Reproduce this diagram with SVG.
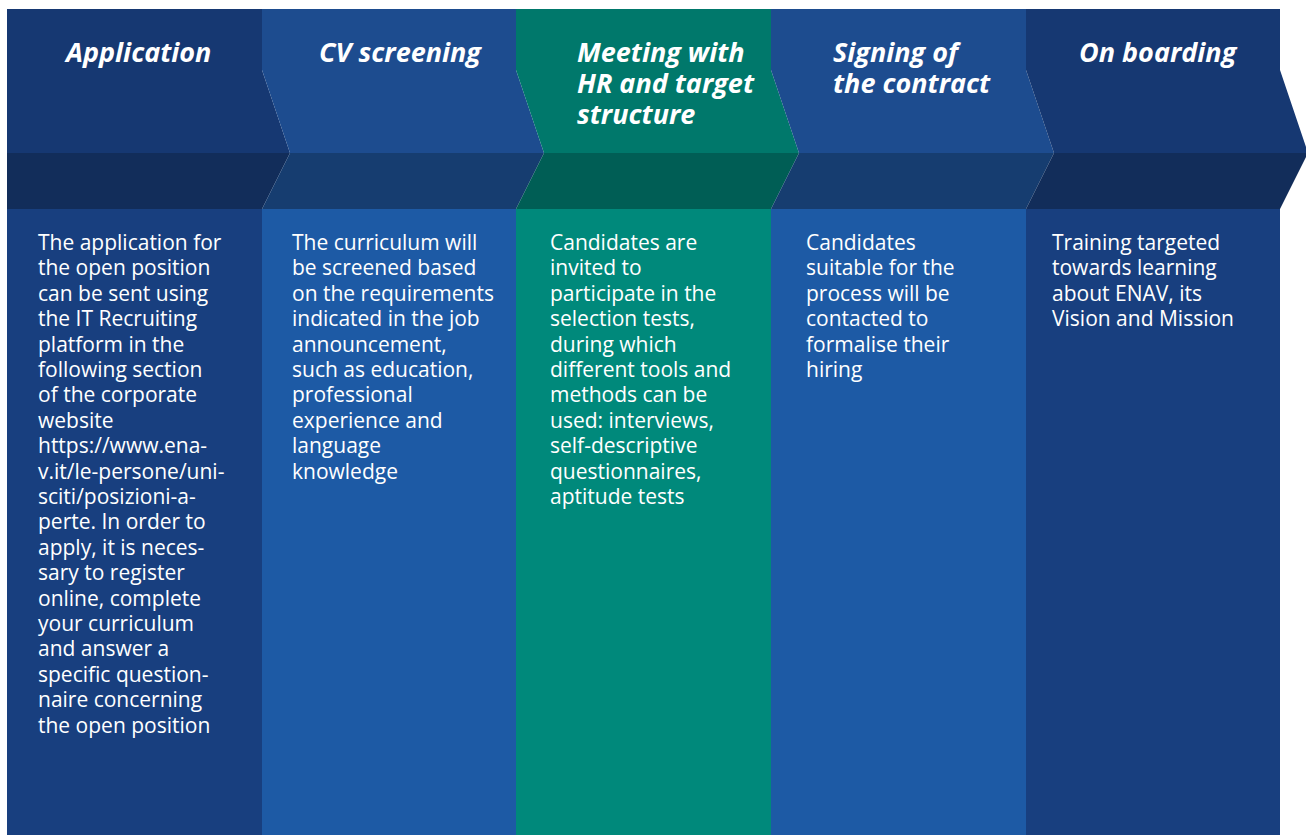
<svg xmlns="http://www.w3.org/2000/svg" width="1306" height="835" viewBox="0 0 1306 835">
<style>
.h{font-family:"Open Sans","Liberation Sans",sans-serif;font-weight:700;font-style:italic;font-size:27px;fill:#fff}
.b{font-family:"Open Sans","Liberation Sans",sans-serif;font-size:21px;fill:#fff}
.d1{fill:#163872}.d2{fill:#122d5a}.d3{fill:#183f7f}
.m1{fill:#1d4c8f}.m2{fill:#163d70}.m3{fill:#1d5aa5}
.g1{fill:#00786b}.g2{fill:#005e55}.g3{fill:#00897b}
</style>
<rect width="1306" height="835" fill="#fff"/>
<g id="step1">
<rect class="d3" x="7" y="209" width="255" height="626"/>
<polygon class="d1" points="7,9 262,9 262,70 290,153 7,153"/>
<polygon class="d2" points="7,153 290,153 262,209 7,209"/>
<text class="h" x="66" y="62">Application</text>
<text class="b" y="250"><tspan x="38">The application for</tspan><tspan x="38" dy="25.4">the open position</tspan><tspan x="38" dy="25.4">can be sent using</tspan><tspan x="38" dy="25.4">the IT Recruiting</tspan><tspan x="38" dy="25.4">platform in the</tspan><tspan x="38" dy="25.4">following section</tspan><tspan x="38" dy="25.4">of the corporate</tspan><tspan x="38" dy="25.4">website</tspan><tspan x="38" dy="25.4">https://www.ena-</tspan><tspan x="38" dy="25.4">v.it/le-persone/uni-</tspan><tspan x="38" dy="25.4">sciti/posizioni-a-</tspan><tspan x="38" dy="25.4">perte. In order to</tspan><tspan x="38" dy="25.4">apply, it is neces-</tspan><tspan x="38" dy="25.4">sary to register</tspan><tspan x="38" dy="25.4">online, complete</tspan><tspan x="38" dy="25.4">your curriculum</tspan><tspan x="38" dy="25.4">and answer a</tspan><tspan x="38" dy="25.4">specific question-</tspan><tspan x="38" dy="25.4">naire concerning</tspan><tspan x="38" dy="25.4">the open position</tspan></text>
</g>
<g id="step2">
<rect class="m3" x="262" y="209" width="254" height="626"/>
<polygon class="m1" points="262,9 516,9 516,70 544,153 290,153 262,70"/>
<polygon class="m2" points="290,153 544,153 516,209 262,209"/>
<text class="h" x="319" y="62">CV screening</text>
<text class="b" y="250"><tspan x="292">The curriculum will</tspan><tspan x="292" dy="25.4">be screened based</tspan><tspan x="292" dy="25.4">on the requirements</tspan><tspan x="292" dy="25.4">indicated in the job</tspan><tspan x="292" dy="25.4">announcement,</tspan><tspan x="292" dy="25.4">such as education,</tspan><tspan x="292" dy="25.4">professional</tspan><tspan x="292" dy="25.4">experience and</tspan><tspan x="292" dy="25.4">language</tspan><tspan x="292" dy="25.4">knowledge</tspan></text>
</g>
<g id="step3">
<rect class="g3" x="516" y="209" width="255" height="626"/>
<polygon class="g1" points="516,9 771,9 771,70 799,153 544,153 516,70"/>
<polygon class="g2" points="544,153 799,153 771,209 516,209"/>
<text class="h" y="62"><tspan x="577">Meeting with</tspan><tspan x="577" dy="31">HR and target</tspan><tspan x="577" dy="31">structure</tspan></text>
<text class="b" y="250"><tspan x="550">Candidates are</tspan><tspan x="550" dy="25.4">invited to</tspan><tspan x="550" dy="25.4">participate in the</tspan><tspan x="550" dy="25.4">selection tests,</tspan><tspan x="550" dy="25.4">during which</tspan><tspan x="550" dy="25.4">different tools and</tspan><tspan x="550" dy="25.4">methods can be</tspan><tspan x="550" dy="25.4">used: interviews,</tspan><tspan x="550" dy="25.4">self-descriptive</tspan><tspan x="550" dy="25.4">questionnaires,</tspan><tspan x="550" dy="25.4">aptitude tests</tspan></text>
</g>
<g id="step4">
<rect class="m3" x="771" y="209" width="255" height="626"/>
<polygon class="m1" points="771,9 1026,9 1026,70 1054,153 799,153 771,70"/>
<polygon class="m2" points="799,153 1054,153 1026,209 771,209"/>
<text class="h" y="62"><tspan x="833">Signing of</tspan><tspan x="833" dy="31">the contract</tspan></text>
<text class="b" y="250"><tspan x="806">Candidates</tspan><tspan x="806" dy="25.4">suitable for the</tspan><tspan x="806" dy="25.4">process will be</tspan><tspan x="806" dy="25.4">contacted to</tspan><tspan x="806" dy="25.4">formalise their</tspan><tspan x="806" dy="25.4">hiring</tspan></text>
</g>
<g id="step5">
<rect class="d3" x="1026" y="209" width="254" height="626"/>
<polygon class="d1" points="1026,9 1280,9 1280,70 1308,153 1054,153 1026,70"/>
<polygon class="d2" points="1054,153 1308,153 1280,209 1026,209"/>
<text class="h" x="1079" y="62">On boarding</text>
<text class="b" y="250"><tspan x="1052">Training targeted</tspan><tspan x="1052" dy="25.4">towards learning</tspan><tspan x="1052" dy="25.4">about ENAV, its</tspan><tspan x="1052" dy="25.4">Vision and Mission</tspan></text>
</g>
<g id="connectors"></g>
</svg>
